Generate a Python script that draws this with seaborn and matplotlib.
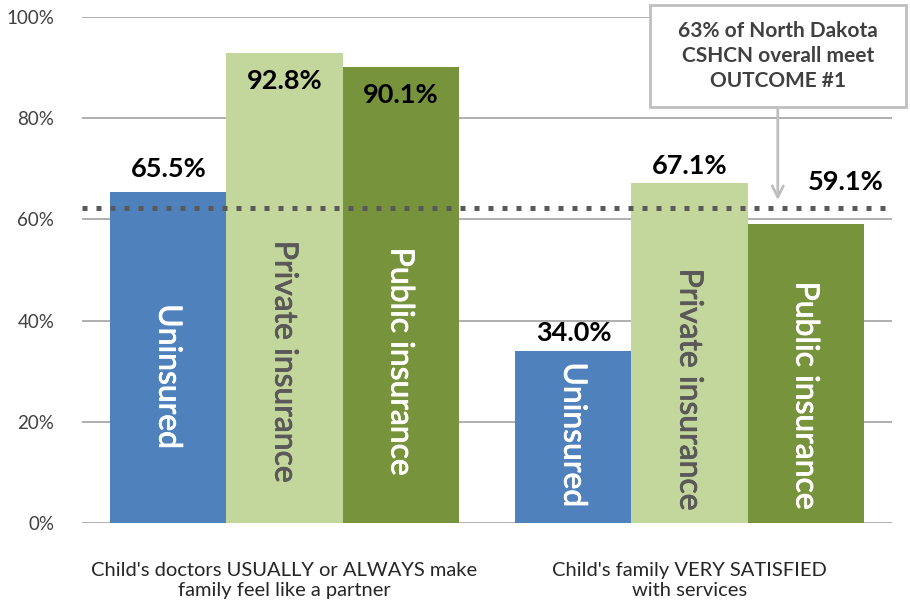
import numpy as np
import pandas as pd
import seaborn as sns
import matplotlib.pyplot as plt
import matplotlib.patheffects as pe
from matplotlib.patches import Rectangle

measures = ["Child's doctors USUALLY or ALWAYS make\nfamily feel like a partner",
            "Child's family VERY SATISFIED\nwith services"]
insurance = ['Uninsured', 'Private insurance', 'Public insurance']
uninsured = [65.5, 34.0]
private = [92.8, 67.1]
public = [90.1, 59.1]
overall = 62.2  # dotted reference line ("63% overall")
note = '63% of North Dakota\nCSHCN overall meet\nOUTCOME #1'

colors = ['#4F81BD', '#C3D69B', '#77933C']
inner_colors = ['white', '#595959', 'white']

df = pd.DataFrame({
    'measure': measures * 3,
    'type': [t for t in insurance for _ in measures],
    'pct': uninsured + private + public,
})

sns.set_style('white')
plt.rcParams['font.family'] = ['Lato', 'DejaVu Sans']

fig = plt.figure(figsize=(9.1, 6.01), dpi=100)
ax = fig.add_axes([82/910, 78/601, 810/910, 506/601])

sns.barplot(data=df, x='measure', y='pct', hue='type', hue_order=insurance,
            order=measures, palette=colors, width=0.86, gap=0, linewidth=0,
            saturation=1, ax=ax, legend=False, zorder=2)

ax.set_ylim(0, 100)
ax.set_xlim(-0.5, 1.5)
ax.set_yticks(range(0, 101, 20))
ax.set_yticklabels([f'{v}%' for v in range(0, 101, 20)], fontsize=13.5, color='#404040')
ax.yaxis.grid(True, color='#9a9a9a', lw=1.1, zorder=0)
ax.set_axisbelow(True)
ax.tick_params(axis='both', length=0)
ax.tick_params(axis='y', pad=20)
ax.tick_params(axis='x', pad=28)
ax.set_xticks([0, 1])
ax.set_xticklabels(measures, fontsize=14.5, color='#262626', linespacing=1.2)
ax.set_xlabel('')
ax.set_ylabel('')
for s in ax.spines.values():
    s.set_visible(False)

# label placement, in % units (hue index, group)
label_dy = {
    (0, 0): 4.5, (1, 0): -5.5, (2, 0): -5.5,
    (0, 1): 3.6, (1, 1): 3.4, (2, 1): 8.2,
}
label_dx = {(2, 1): 0.10}
inner_y = {
    (0, 0): 28.9, (1, 0): 31.8, (2, 0): 31.8,
    (0, 1): 17.4, (1, 1): 26.3, (2, 1): 25.1,
}
for h, cont in enumerate(ax.containers):
    for g, bar in enumerate(cont):
        cx = bar.get_x() + bar.get_width() / 2
        top = bar.get_height()
        ax.text(cx + label_dx.get((h, g), 0), top + label_dy[(h, g)], f'{top:.1f}%',
                ha='center', va='center', fontsize=19.5, fontweight='bold',
                color='black', zorder=5)
        ax.text(cx, inner_y[(h, g)], insurance[h], rotation=270,
                ha='center', va='center', fontsize=23, color=inner_colors[h],
                zorder=5,
                path_effects=[pe.withStroke(linewidth=0.6, foreground=inner_colors[h])])

ax.axhline(overall, color='#595959', lw=3.6, linestyle=(0, (1, 1.8)), zorder=4)

# callout box with arrow
fig.patches.append(Rectangle((650/910, 1 - 107/601), 256/910, 102/601,
                             transform=fig.transFigure, facecolor='white',
                             edgecolor='#BFBFBF', lw=2, zorder=6))
fig.text(778/910, 1 - 56/601, note, ha='center', va='center', fontsize=15,
         fontweight='bold', color='#404040', linespacing=1.3, zorder=7)
ax.annotate('', xy=(0.859, 63.8), xycoords=('axes fraction', 'data'),
            xytext=(0.859, (523 - 107) / 5.06), textcoords=('axes fraction', 'data'),
            arrowprops=dict(arrowstyle='->', color='#BFBFBF', lw=2,
                            mutation_scale=20, shrinkA=0, shrinkB=0),
            annotation_clip=False, zorder=6)

fig.savefig('out.png', dpi=100)
